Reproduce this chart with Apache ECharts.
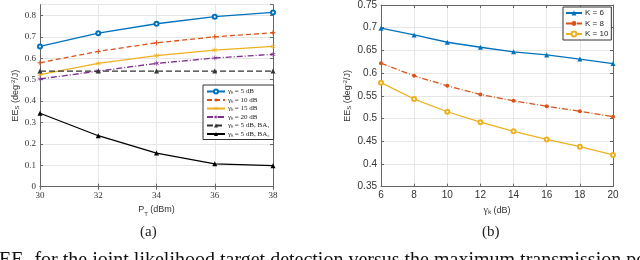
<!DOCTYPE html>
<html><head><meta charset="utf-8">
<script src="https://cdn.jsdelivr.net/npm/echarts@6/dist/echarts.min.js"></script>
<style>html,body{margin:0;padding:0;background:#fff}#c{width:640px;height:260px}</style>
</head><body><div id="c"></div>
<script>
// Panel (a): EE_S vs P_T
const ptValues = [30, 32, 34, 36, 38];
const g5  = [0.655, 0.717, 0.761, 0.794, 0.814];
const g10 = [0.579, 0.632, 0.672, 0.700, 0.719];
const g15 = [0.523, 0.576, 0.612, 0.638, 0.655];
const g20 = [0.503, 0.540, 0.576, 0.601, 0.618];
const ba1 = [0.540, 0.540, 0.540, 0.540, 0.540];
const ba2 = [0.343, 0.238, 0.157, 0.107, 0.098];
const namesA = ['γₖ = 5 dB', 'γₖ = 10 dB', 'γₖ = 15 dB', 'γₖ = 20 dB', 'γₖ = 5 dB, BA₁', 'γₖ = 5 dB, BA₂'];

// Panel (b): EE_S vs gamma_k
const gammaValues = [6, 8, 10, 12, 14, 16, 18, 20];
const k6  = [0.699, 0.684, 0.668, 0.657, 0.647, 0.640, 0.631, 0.621];
const k8  = [0.622, 0.594, 0.572, 0.553, 0.539, 0.527, 0.516, 0.504];
const k10 = [0.579, 0.543, 0.515, 0.492, 0.472, 0.454, 0.438, 0.420];
const namesB = ['K = 6', 'K = 8', 'K = 10'];

const C = {blue:'#0072BD', orange:'#D95319', yellow:'#EDB120', purple:'#7E2F8E', black:'#000000'};
const pairs = (xs, ys) => xs.map((x, i) => [x, ys[i]]);
const PLUS = 'path://M4,0h2v4h4v2h-4v4h-2v-4h-4v-2h4z';
const STAR = 'path://M4.4,0h1.2v3.9l3.4-2l0.6,1l-3.4,2.1l3.4,2.1l-0.6,1l-3.4-2v3.9h-1.2v-3.9l-3.4,2l-0.6-1l3.4-2.1l-3.4-2.1l0.6-1l3.4,2z';

const axisCol = '#666';
const serif = 'Liberation Serif';
const sans = 'Liberation Sans';

function xAx(gi, min, max, font, fs, name, nameGap) {
  return {
    type:'value', gridIndex:gi, min:min, max:max, interval:2, position:'bottom',
    axisLine:{lineStyle:{color:axisCol, width:1}},
    axisTick:{inside:true, length:3, lineStyle:{color:axisCol}},
    axisLabel:{fontFamily:font, fontSize:fs, color:'#333', margin:4},
    splitLine:{show:true, lineStyle:{color:'#e6e6e6', width:1}},
    name:name, nameLocation:'middle', nameGap:nameGap,
    nameTextStyle:{fontFamily:sans, fontSize:9, color:'#333',
      rich:{sub:{fontSize:6, verticalAlign:'bottom', padding:[0,0,-4,0], fontFamily:sans, color:'#333'},
            gk:{fontFamily:serif, fontSize:10, color:'#333'}}}
  };
}
function xTop(gi, min, max) {
  return {type:'value', gridIndex:gi, min:min, max:max, interval:2, position:'top',
    axisLine:{show:true, lineStyle:{color:axisCol, width:1}},
    axisTick:{inside:true, length:3, lineStyle:{color:axisCol}},
    axisLabel:{show:false}, splitLine:{show:false}};
}
function yAx(gi, min, max, itv, font, fs, nameGap, fmt) {
  return {
    type:'value', gridIndex:gi, min:min, max:max, interval:itv, position:'left',
    axisLine:{show:true, lineStyle:{color:axisCol, width:1}},
    axisTick:{show:true, inside:true, length:3, lineStyle:{color:axisCol}},
    axisLabel:{fontFamily:font, fontSize:fs, color:'#333', margin:4, showMaxLabel: gi===1, formatter:fmt},
    splitLine:{show:true, lineStyle:{color:'#e6e6e6', width:1}},
    name:'EE{sub|S} (deg{sup|-2}/J)', nameLocation:'middle', nameGap:nameGap, nameRotate:90,
    nameTextStyle:{fontFamily:sans, fontSize:9, color:'#333',
      rich:{sub:{fontSize:6, fontFamily:sans, color:'#333', padding:[0,0,-4,0]},
            sup:{fontSize:6, fontFamily:sans, color:'#333', padding:[-5,0,0,0]}}}
  };
}
function yRight(gi, min, max, itv) {
  return {type:'value', gridIndex:gi, min:min, max:max, interval:itv, position:'right',
    axisLine:{show:true, lineStyle:{color:axisCol, width:1}},
    axisTick:{show:true, inside:true, length:3, lineStyle:{color:axisCol}},
    axisLabel:{show:false}, splitLine:{show:false}};
}
function ser(name, xi, yi, xs, ys, color, type, symbol, size) {
  return {
    name:name, type:'line', xAxisIndex:xi, yAxisIndex:yi, data:pairs(xs, ys),
    symbol:symbol, symbolSize:size, showSymbol:true,
    lineStyle:{color:color, width:1.3, type:type},
    itemStyle: symbol === 'emptyCircle' ? {color:color, borderWidth:1} : {color:color},
    emphasis:{disabled:true}, animation:false, z:3
  };
}

const chart = echarts.init(document.getElementById('c'), null, {renderer:'canvas'});
chart.setOption({
  animation:false,
  backgroundColor:'#fff',
  grid:[
    {left:40, top:4.7, width:233, height:182, show:false},
    {left:381, top:4, width:232, height:182.7, show:false}
  ],
  xAxis:[
    xAx(0, 30, 38, serif, 9, 'P{sub|T} (dBm)', 12),
    xAx(1, 6, 20, sans, 10, '{gk|γₖ} (dB)', 13),
    xTop(0, 30, 38), xTop(1, 6, 20)
  ],
  yAxis:[
    yAx(0, 0, 0.85, 0.1, serif, 9, 20, v => (Math.round(v*10)/10).toString()),
    yAx(1, 0.35, 0.75, 0.05, sans, 10, 29, v => (Math.round(v*100)/100).toString()),
    yRight(0, 0, 0.85, 0.1), yRight(1, 0.35, 0.75, 0.05)
  ],
  legend:[
    {data:namesA, orient:'vertical', left:203, top:85, width:69,
     backgroundColor:'#fff', borderColor:'#333', borderWidth:1, padding:[3,4,2,3],
     itemWidth:18, itemHeight:5, itemGap:1.5,
     textStyle:{fontFamily:serif, fontSize:7, color:'#222', padding:[0,0,0,-2]}},
    {data:namesB, orient:'vertical', left:563, top:7, width:46,
     backgroundColor:'#fff', borderColor:'#333', borderWidth:1, padding:[2,3,2,2],
     itemWidth:16, itemHeight:6, itemGap:2.5,
     textStyle:{fontFamily:sans, fontSize:8, color:'#222', padding:[0,0,0,-2]}}
  ],
  series:[
    ser(namesA[0], 0, 0, ptValues, g5,  C.blue,   'solid',  'emptyCircle', 4),
    ser(namesA[1], 0, 0, ptValues, g10, C.orange, [5,3],    PLUS, 5),
    ser(namesA[2], 0, 0, ptValues, g15, C.yellow, 'solid',  STAR, 5),
    ser(namesA[3], 0, 0, ptValues, g20, C.purple, [6,2,1,2], STAR, 5),
    ser(namesA[4], 0, 0, ptValues, ba1, '#333',   [6,3],    'triangle', 5),
    ser(namesA[5], 0, 0, ptValues, ba2, C.black,  'solid',  'triangle', 5),
    ser(namesB[0], 1, 1, gammaValues, k6,  C.blue,   'solid',  'triangle', 5),
    ser(namesB[1], 1, 1, gammaValues, k8,  C.orange, [6,2,1,2], 'circle', 4),
    ser(namesB[2], 1, 1, gammaValues, k10, C.yellow, 'solid',  'emptyCircle', 4)
  ],
  graphic:[
    {type:'text', left:140, top:225, style:{text:'(a)', font:'15px "Liberation Serif"', fill:'#222'}},
    {type:'text', left:482, top:225, style:{text:'(b)', font:'15px "Liberation Serif"', fill:'#222'}},
    {type:'text', left:-1, top:251, style:{text:'EEₛ for the joint likelihood target detection versus the maximum transmission power, E', font:'20px "Liberation Serif"', fill:'#111'}}
  ]
});
</script>
</body></html>
